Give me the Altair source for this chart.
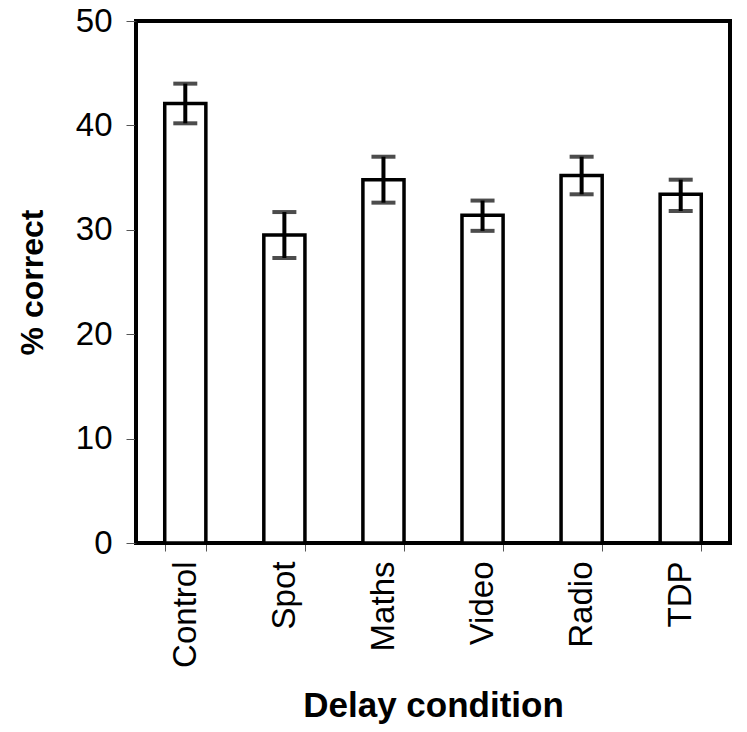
import altair as alt
import pandas as pd

conditions = ["Control", "Spot", "Maths", "Video", "Radio", "TDP"]
means = [42.1, 29.5, 34.8, 31.4, 35.2, 33.4]
err_hi = [44.0, 31.7, 37.0, 32.8, 37.0, 34.8]
err_lo = [40.2, 27.3, 32.6, 29.9, 33.4, 31.8]

df = pd.DataFrame({"cond": conditions, "mean": means, "hi": err_hi, "lo": err_lo})

FONT = "Liberation Sans"

x = alt.X(
    "cond:N",
    sort=conditions,
    scale=alt.Scale(paddingInner=0.585, paddingOuter=0.29),
    axis=alt.Axis(
        title="Delay condition",
        labelAngle=270,
        labelAlign="right",
        labelBaseline="middle",
        labelFontSize=33,
        labelPadding=10,
        labelColor="black",
        labelFont=FONT,
        titleFont=FONT,
        titleFontSize=35,
        titleFontWeight="bold",
        titleColor="black",
        titlePadding=21,
        tickBand="extent",
        tickSize=8,
        tickColor="#555555",
        tickWidth=1,
        domainColor="black",
        domainWidth=3,
    ),
)

y_axis = alt.Axis(
    title="% correct",
    values=[0, 10, 20, 30, 40, 50],
    labelFontSize=33,
    labelPadding=14,
    labelColor="black",
    labelFont=FONT,
    titleFont=FONT,
    titleFontSize=32,
    titleFontWeight="bold",
    titleColor="black",
    titlePadding=26,
    tickSize=10,
    tickColor="#555555",
    tickWidth=1,
    domainColor="black",
    domainWidth=3,
    grid=False,
)

bars = alt.Chart(df).mark_bar(
    fill="white", stroke="black", strokeWidth=3.5
).encode(
    x=x,
    y=alt.Y("mean:Q", scale=alt.Scale(domain=[0, 50], nice=False), axis=y_axis),
)

rules = alt.Chart(df).mark_rule(color="black", strokeWidth=4).encode(
    x=alt.X("cond:N", sort=conditions),
    y="lo:Q",
    y2="hi:Q",
)

cap_hi = alt.Chart(df).mark_tick(
    color="black", thickness=4, size=24, orient="horizontal"
).encode(x=alt.X("cond:N", sort=conditions), y="hi:Q")

cap_lo = alt.Chart(df).mark_tick(
    color="black", thickness=4, size=24, orient="horizontal"
).encode(x=alt.X("cond:N", sort=conditions), y="lo:Q")

chart = (
    alt.layer(bars, rules, cap_hi, cap_lo)
    .properties(
        width=594,
        height=522,
        autosize=alt.AutoSizeParams(type="none"),
        padding={"left": 128, "top": 13, "right": 9, "bottom": 181},
    )
    .configure_view(stroke="black", strokeWidth=4)
)

chart.save("out.html", embed_options={"renderer": "svg", "actions": False})
